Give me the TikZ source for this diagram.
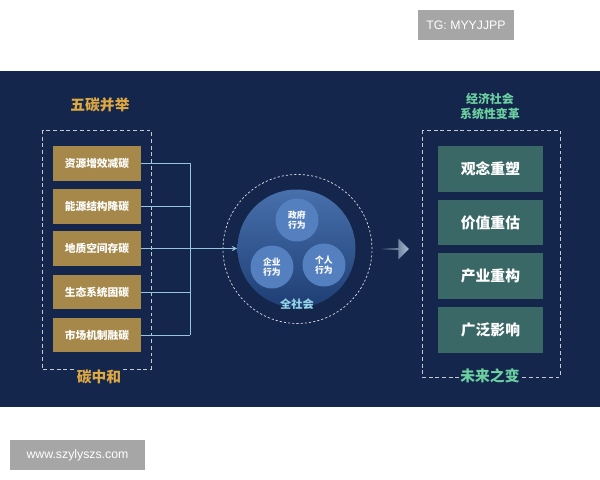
\documentclass[tikz,border=0pt]{standalone}
\usepackage{fontspec}
\setmainfont{Liberation Sans}
\newfontfamily\cjk{Noto Sans CJK SC}
\usetikzlibrary{shapes, arrows, calc, positioning}

\definecolor{navy}{RGB}{20,38,76}
\definecolor{goldbox}{RGB}{166,136,74}
\definecolor{goldtext}{RGB}{222,168,66}
\definecolor{tealbox}{RGB}{58,104,102}
\definecolor{greentext}{RGB}{108,208,160}
\definecolor{linkblue}{RGB}{150,198,222}
\definecolor{markgray}{RGB}{166,166,166}

\begin{document}
\begin{tikzpicture}[x=0.02cm, y=-0.02cm, >=stealth]
	\tikzstyle{carbon} = [fill=goldbox, text=white, minimum width=1.76cm, minimum height=0.70cm, inner sep=0pt, font=\cjk\bfseries\fontsize{6.1}{7}\selectfont]
	\tikzstyle{outcome} = [fill=tealbox, text=white, minimum width=2.1cm, minimum height=0.92cm, inner sep=0pt, font=\cjk\bfseries\fontsize{8.4}{9}\selectfont]
	\tikzstyle{actor} = [circle, fill={rgb,255:red,84;green,128;blue,192}, text=white, minimum size=0.86cm, inner sep=0pt, align=center, font=\cjk\bfseries\fontsize{5}{6}\selectfont]
	\tikzstyle{heading} = [inner sep=1pt, align=center, font=\cjk\bfseries\fontsize{8.4}{9}\selectfont]
	\tikzstyle{frame} = [draw=white!75!navy, thin, dash pattern=on 2.2pt off 1.6pt]
	\tikzstyle{link} = [draw=linkblue, thin]
	\tikzstyle{stamp} = [fill=markgray, text=white, inner sep=0pt, font=\fontsize{7}{8}\selectfont]

	\useasboundingbox[fill=white] (0,0) rectangle (600,480);
	\fill[navy] (0,71) rectangle (600,407);

	% watermarks
	\node[stamp, minimum width=1.92cm, minimum height=0.6cm] (tg) at (466,25) {TG: MYYJJPP};
	\node[stamp, minimum width=2.7cm, minimum height=0.6cm] (site) at (77.5,455) {www.szylyszs.com};

	% left column
	\draw[frame] (42,130) rectangle (151,369);
	\node[heading, text=goldtext] (five) at (100,105) {五碳并举};
	\node[carbon] (s1) at (97,163.5) {资源增效减碳};
	\node[carbon] (s2) at (97,206.5) {能源结构降碳};
	\node[carbon] (s3) at (97,248.5) {地质空间存碳};
	\node[carbon] (s4) at (97,292) {生态系统固碳};
	\node[carbon] (s5) at (97,335) {市场机制融碳};
	\node[heading, text=goldtext, fill=navy] (neutral) at (99,377) {碳中和};

	% society
	\draw[draw=white!85!navy, thin, dash pattern=on 1.2pt off 1.2pt] (297.5,249) circle[radius=1.49cm];
	\node[circle, minimum size=2.36cm, inner sep=0pt, top color={rgb,255:red,72;green,112;blue,172}, bottom color={rgb,255:red,30;green,62;blue,116}] (society) at (296.5,248.5) {};
	\node[actor] (gov) at (297,220) {政府\\行为};
	\node[actor] (firm) at (272,267) {企业\\行为};
	\node[actor] (person) at (324,265) {个人\\行为};
	\node[font=\cjk\bfseries\fontsize{6.4}{7}\selectfont, text={rgb,255:red,150;green,214;blue,230}] (whole) at (297,304) {全社会};

	% connectors
	\path[link]
		(s1.east) -- ++(49,0) coordinate (b1)
		(s2.east) -- ++(49,0)
		(s4.east) -- ++(49,0)
		(s5.east) -- ++(49,0) coordinate (b5)
		(b1) -- (b5)
	;
	\draw[link, ->] (s3.east) -- (society.west);

	\node[single arrow, minimum height=0.58cm, minimum width=0.42cm, single arrow head extend=0.07cm, inner sep=0pt, left color=navy, right color={rgb,255:red,170;green,190;blue,210}] (flow) at (394,249) {};

	% right column
	\node[heading, text=greentext, font=\cjk\bfseries\fontsize{6.8}{8.6}\selectfont] (change) at (490,106.5) {经济社会\\系统性变革};
	\draw[frame] (422,130) rectangle (560,377);
	\node[outcome] (c1) at (490.5,169) {观念重塑};
	\node[outcome] (c2) at (490.5,222.5) {价值重估};
	\node[outcome] (c3) at (490.5,276) {产业重构};
	\node[outcome] (c4) at (490.5,330) {广泛影响};
	\node[heading, text=greentext, fill=navy] (future) at (490,376) {未来之变};
\end{tikzpicture}
\end{document}
